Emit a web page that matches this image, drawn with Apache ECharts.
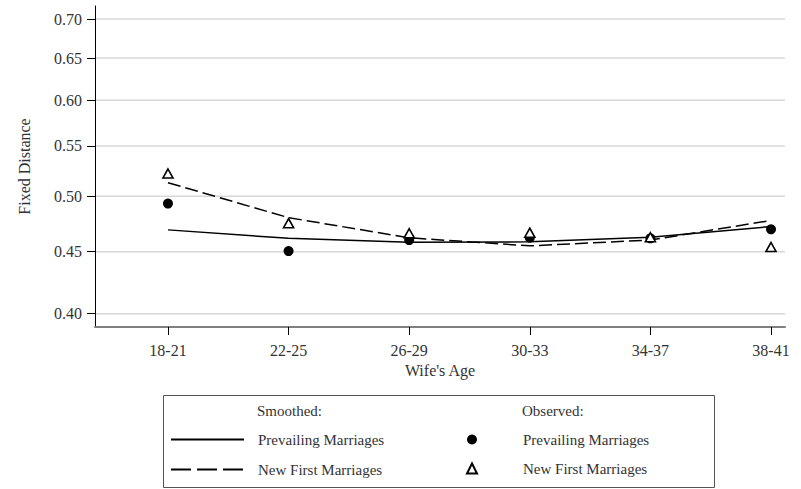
<!DOCTYPE html>
<html><head><meta charset="utf-8">
<script src="https://cdn.jsdelivr.net/npm/echarts@6/dist/echarts.min.js"></script>
<style>html,body{margin:0;padding:0;background:#fff}#c{width:801px;height:489px}</style>
</head><body><div id="c"></div>
<script>
var categories = ['18-21','22-25','26-29','30-33','34-37','38-41'];
var yTicks = [0.40,0.45,0.50,0.55,0.60,0.65,0.70];
var smoothPrevailing = [0.469,0.4615,0.458,0.4585,0.4625,0.472];
var smoothNewFirst = [0.513,0.480,0.462,0.455,0.460,0.4775];
var obsPrevailing = [0.493,0.4505,0.460,0.462,0.4615,0.4695];
var obsNewFirst = [0.522,0.475,0.466,0.4665,0.4625,0.454];

var FONT = '"Liberation Serif", "DejaVu Serif", serif';
var X_MIN = -0.605, X_MAX = 5.116;
function pts(arr){ return arr.map(function(v,i){ return [i,v]; }); }
var idx = categories.map(function(c,i){ return i; });

var baseGraphic = [
  {type:'rect',shape:{x:163.5,y:395.5,width:551,height:92},style:{fill:null,stroke:'#555',lineWidth:1}},
  {type:'text',left:257,top:403,style:{text:'Smoothed:',font:'15px '+FONT,fill:'#333'}},
  {type:'text',left:522,top:403,style:{text:'Observed:',font:'15px '+FONT,fill:'#333'}}
];

var chart = echarts.init(document.getElementById('c'), null, {renderer:'svg'});
chart.setOption({
  animation:false,
  grid:{left:95,right:16,top:6,bottom:162},
  xAxis:{
    type:'value', min:X_MIN, max:X_MAX,
    name:"Wife's Age", nameLocation:'middle', nameGap:35,
    nameTextStyle:{fontFamily:FONT,fontSize:16,color:'#333'},
    axisLine:{show:true,onZero:false,lineStyle:{color:'#808080',width:2}},
    axisTick:{show:true,customValues:idx,length:8,lineStyle:{color:'#000',width:1}},
    axisLabel:{customValues:idx,formatter:function(v){return categories[Math.round(v)];},
      fontFamily:FONT,fontSize:16,color:'#333',margin:15},
    splitLine:{show:false}
  },
  yAxis:{
    type:'log', min:0.39, max:0.7175,
    name:'Fixed Distance', nameLocation:'middle', nameGap:63,
    nameTextStyle:{fontFamily:FONT,fontSize:16,color:'#333'},
    axisLine:{show:true,onZero:false,lineStyle:{color:'#000',width:1}},
    axisTick:{show:true,customValues:yTicks,length:8,lineStyle:{color:'#000'}},
    axisLabel:{customValues:yTicks,formatter:function(v){return Number(v).toFixed(2);},
      fontFamily:FONT,fontSize:16,color:'#333',margin:13},
    splitLine:{show:false}
  },
  legend:[
    {left:170,top:432,padding:0,orient:'vertical',itemWidth:73,itemHeight:14,itemGap:15,
     textStyle:{fontFamily:FONT,fontSize:15,color:'#333',padding:[0,0,0,9]},
     data:[{name:'Prevailing Marriages (smoothed)'},{name:'New First Marriages (smoothed)',lineStyle:{type:[20,6]}}],
     formatter:function(n){return n.replace(' (smoothed)','');}},
    {left:466,top:432,padding:0,orient:'vertical',itemWidth:10,itemHeight:10,itemGap:14,
     textStyle:{fontFamily:FONT,fontSize:15,color:'#333',padding:[0,0,0,41]},
     data:['Prevailing Marriages (observed)','New First Marriages (observed)'],
     formatter:function(n){return n.replace(' (observed)','');}}
  ],
  graphic:baseGraphic,
  series:[
    {name:'Prevailing Marriages (smoothed)',type:'line',data:pts(smoothPrevailing),symbol:'none',
     lineStyle:{color:'#000',width:1.5,type:'solid'},itemStyle:{color:'#000',opacity:0},z:3},
    {name:'New First Marriages (smoothed)',type:'line',data:pts(smoothNewFirst),symbol:'none',
     lineStyle:{color:'#000',width:1.5,type:[13,5]},itemStyle:{color:'#000',opacity:0},z:3},
    {name:'Prevailing Marriages (observed)',type:'scatter',data:pts(obsPrevailing),symbol:'circle',symbolSize:10,
     itemStyle:{color:'#000',opacity:1},z:4},
    {name:'New First Marriages (observed)',type:'scatter',data:pts(obsNewFirst),symbol:'triangle',symbolSize:[10,9],
     itemStyle:{color:'#fff',borderColor:'#000',borderWidth:1.6,opacity:1},z:5}
  ]
});

// Horizontal grid lines at the tick values, positioned through the chart's own scales
var gridLines = yTicks.map(function(v){
  var p1 = chart.convertToPixel({xAxisIndex:0,yAxisIndex:0},[X_MIN,v]);
  var p2 = chart.convertToPixel({xAxisIndex:0,yAxisIndex:0},[X_MAX,v]);
  return {type:'line',silent:true,z:-5,
    shape:{x1:p1[0]+1,y1:p1[1],x2:p2[0],y2:p2[1]},
    style:{stroke:'#d8d8d8',lineWidth:1.5}};
});
chart.setOption({graphic:baseGraphic.concat(gridLines)});
</script></body></html>
